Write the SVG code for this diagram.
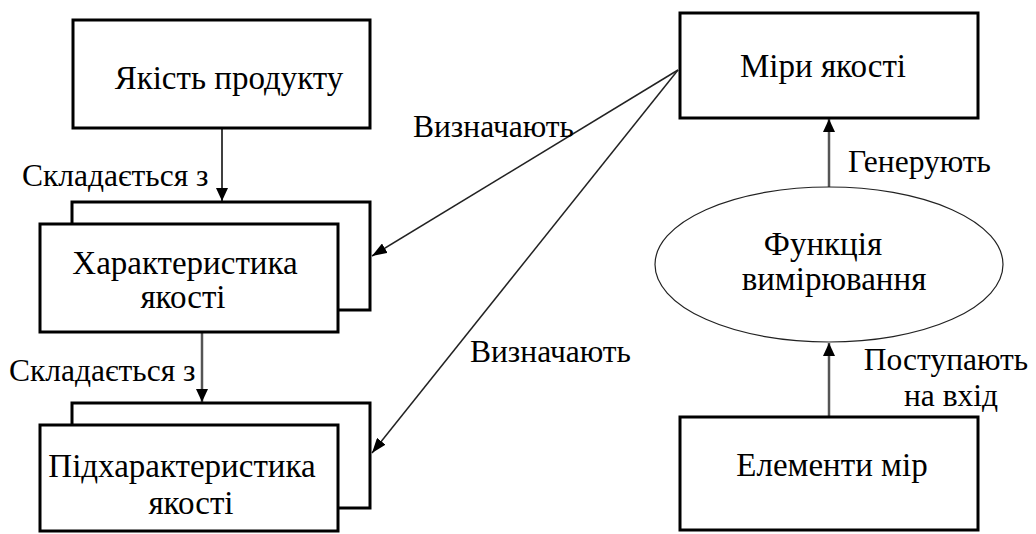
<svg xmlns="http://www.w3.org/2000/svg" width="1036" height="534" viewBox="0 0 1036 534">
<defs>
<style>
.box{fill:#fff;stroke:#000;stroke-width:3}
.ell{fill:#fff;stroke:#222;stroke-width:1.2}
.t{font-family:'Liberation Serif','Times New Roman',serif;font-size:33px;fill:#000;text-anchor:middle}
.lbl{font-family:'Liberation Serif','Times New Roman',serif;font-size:31.5px;fill:#000}
.lblc{font-family:'Liberation Serif','Times New Roman',serif;font-size:31.5px;fill:#000;text-anchor:middle}
.vc{stroke:#000;stroke-width:1.5;fill:none}
.vg{stroke:#555;stroke-width:2.5;fill:none}
.dc{stroke:#222;stroke-width:1.5;fill:none}
</style>
<marker id="ah" viewBox="0 0 13 12" refX="13" refY="6" markerWidth="13" markerHeight="12" markerUnits="userSpaceOnUse" orient="auto">
<path d="M0,0 L13,6 L0,12 Z" fill="#000"/>
</marker>
<marker id="ah2" viewBox="0 0 15 11" refX="15" refY="5.5" markerWidth="15" markerHeight="11" markerUnits="userSpaceOnUse" orient="auto">
<path d="M0,0 L15,5.5 L0,11 Z" fill="#000"/>
</marker>
</defs>
<rect width="1036" height="534" fill="#fff"/>

<g id="connectors">
<line class="vc" x1="222" y1="129" x2="222" y2="201" marker-end="url(#ah)"/>
<line class="vg" x1="202" y1="333" x2="202" y2="402" stroke="#444" stroke-width="2" marker-end="url(#ah)"/>
<line class="vg" x1="829" y1="187" x2="829" y2="119" marker-end="url(#ah)"/>
<line class="vg" x1="829" y1="417" x2="829" y2="343" marker-end="url(#ah)"/>
<line class="dc" x1="678" y1="70" x2="372" y2="256" marker-end="url(#ah2)"/>
<line class="dc" x1="678" y1="70" x2="372" y2="453" marker-end="url(#ah2)"/>
<text class="lbl" x="22" y="186">Складається з</text>
<text class="lbl" x="9" y="381">Складається з</text>
<text class="lbl" x="413" y="137">Визначають</text>
<text class="lbl" x="470" y="362">Визначають</text>
<text class="lbl" x="848" y="172">Генерують</text>
<text class="lblc" x="946" y="370">Поступають</text>
<text class="lblc" x="951" y="406">на вхід</text>
</g>

<g id="node-product">
<rect class="box" x="73" y="20" width="297" height="108"/>
<text class="t" x="229" y="89">Якість продукту</text>
</g>

<g id="node-characteristic">
<rect class="box" x="72" y="202" width="298" height="108"/>
<rect class="box" x="40" y="224" width="298" height="108"/>
<text class="t" x="185" y="274">Характеристика</text>
<text class="t" x="183" y="308">якості</text>
</g>

<g id="node-subcharacteristic">
<rect class="box" x="72" y="403" width="298" height="105"/>
<rect class="box" x="40" y="425" width="298" height="106"/>
<text class="t" x="182" y="477">Підхарактеристика</text>
<text class="t" x="191" y="514">якості</text>
</g>

<g id="node-measures">
<rect class="box" x="680" y="13" width="298" height="105"/>
<text class="t" x="823" y="77">Міри якості</text>
</g>

<g id="node-function">
<ellipse class="ell" cx="829" cy="264.5" rx="174" ry="77.5"/>
<text class="t" x="823" y="255">Функція</text>
<text class="t" x="834" y="290">вимірювання</text>
</g>

<g id="node-elements">
<rect class="box" x="680" y="417" width="298" height="113"/>
<text class="t" x="832" y="476">Елементи мір</text>
</g>
</svg>
